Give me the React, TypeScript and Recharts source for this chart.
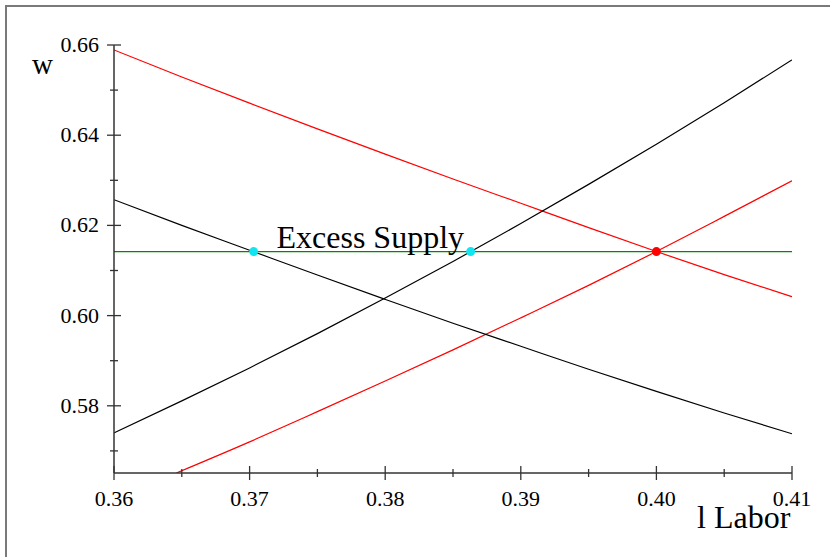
import React from "react";
import { ComposedChart, Line, XAxis, YAxis, ReferenceDot } from "recharts";

// supply / demand curves (l = labor, w = wage)
const supplyBlack = [
  { l: 0.36, w: 0.574 },
  { l: 0.365, w: 0.5811 },
  { l: 0.37, w: 0.5884 },
  { l: 0.375, w: 0.596 },
  { l: 0.38, w: 0.6039 },
  { l: 0.385, w: 0.612 },
  { l: 0.39, w: 0.6204 },
  { l: 0.395, w: 0.6291 },
  { l: 0.4, w: 0.638 },
  { l: 0.405, w: 0.6472 },
  { l: 0.41, w: 0.6567 },
];

const demandBlack = [
  { l: 0.36, w: 0.6257 },
  { l: 0.365, w: 0.62 },
  { l: 0.37, w: 0.6145 },
  { l: 0.375, w: 0.609 },
  { l: 0.38, w: 0.6036 },
  { l: 0.385, w: 0.5983 },
  { l: 0.39, w: 0.5932 },
  { l: 0.395, w: 0.5881 },
  { l: 0.4, w: 0.5832 },
  { l: 0.405, w: 0.5784 },
  { l: 0.41, w: 0.5738 },
];

const supplyRed = [
  { l: 0.3646, w: 0.5651 },
  { l: 0.37, w: 0.572 },
  { l: 0.375, w: 0.5787 },
  { l: 0.38, w: 0.5855 },
  { l: 0.385, w: 0.5924 },
  { l: 0.39, w: 0.5995 },
  { l: 0.395, w: 0.6067 },
  { l: 0.4, w: 0.6142 },
  { l: 0.405, w: 0.622 },
  { l: 0.41, w: 0.6299 },
];

const demandRed = [
  { l: 0.36, w: 0.6589 },
  { l: 0.365, w: 0.6529 },
  { l: 0.37, w: 0.6471 },
  { l: 0.375, w: 0.6414 },
  { l: 0.38, w: 0.6358 },
  { l: 0.385, w: 0.6303 },
  { l: 0.39, w: 0.6249 },
  { l: 0.395, w: 0.6195 },
  { l: 0.4, w: 0.6142 },
  { l: 0.405, w: 0.6091 },
  { l: 0.41, w: 0.6042 },
];

const wageLine = [
  { l: 0.36, w: 0.6142 },
  { l: 0.41, w: 0.6142 },
];

const excessPoints = [
  { l: 0.3703, w: 0.6142 },
  { l: 0.3863, w: 0.6142 },
];
const equilibrium = { l: 0.4, w: 0.6142 };
const excessLabel = { l: 0.3789, w: 0.6142, text: "Excess Supply" };

const xTicks = [0.36, 0.365, 0.37, 0.375, 0.38, 0.385, 0.39, 0.395, 0.4, 0.405, 0.41];
const yTicks = [0.57, 0.58, 0.59, 0.6, 0.61, 0.62, 0.63, 0.64, 0.65, 0.66];

const serif = "'Liberation Serif', 'Times New Roman', serif";
const axisColor = "#333";

const isMajor = (v: number, step: number) =>
  Math.abs(v / step - Math.round(v / step)) < 1e-6;

function XTick({ x, y, payload }: any) {
  const major = isMajor(payload.value, 0.01);
  const len = major ? 7 : 4;
  return (
    <g>
      <line x1={x} x2={x} y1={y - len} y2={y + len} stroke={axisColor} strokeWidth={1.3} />
      {major && (
        <text x={x} y={y + 33} textAnchor="middle" fontSize={22} fontFamily={serif} fill="#000">
          {payload.value.toFixed(2)}
        </text>
      )}
    </g>
  );
}

function YTick({ x, y, payload }: any) {
  const major = isMajor(payload.value, 0.02);
  const len = major ? 7 : 4;
  return (
    <g>
      <line x1={x - len} x2={x + len} y1={y} y2={y} stroke={axisColor} strokeWidth={1.3} />
      {major && (
        <text x={x - 15} y={y + 7} textAnchor="end" fontSize={22} fontFamily={serif} fill="#000">
          {payload.value.toFixed(2)}
        </text>
      )}
    </g>
  );
}

export default function App() {
  return (
    <div style={{ position: "absolute", left: 0, top: 0, width: 830, height: 557, background: "#fff" }}>
      <div
        style={{
          position: "absolute",
          left: 5,
          top: 5,
          width: 840,
          height: 600,
          borderLeft: "2px solid #7a7a7a",
          borderTop: "2px solid #7a7a7a",
        }}
      />
      <div style={{ position: "absolute", left: 0, top: 0, overflow: "hidden", width: 830, height: 557 }}>
        <ComposedChart width={830} height={557} margin={{ top: 45, right: 38, bottom: 83, left: 113 }}>
          <XAxis
            dataKey="l"
            type="number"
            domain={[0.36, 0.41]}
            ticks={xTicks}
            allowDataOverflow
            height={1}
            tickSize={0}
            tickMargin={0}
            tickLine={false}
            tick={<XTick />}
            axisLine={{ stroke: axisColor, strokeWidth: 1.5 }}
            interval={0}
          />
          <YAxis
            dataKey="w"
            type="number"
            domain={[0.5651, 0.66]}
            ticks={yTicks}
            allowDataOverflow
            width={1}
            tickSize={0}
            tickMargin={0}
            tickLine={false}
            tick={<YTick />}
            axisLine={{ stroke: axisColor, strokeWidth: 1.5 }}
            interval={0}
          />
          <Line data={wageLine} dataKey="w" type="linear" stroke="#008a00" strokeWidth={1.3} dot={false} isAnimationActive={false} />
          <Line data={demandRed} dataKey="w" type="monotone" stroke="#ff0000" strokeWidth={1.2} dot={false} isAnimationActive={false} />
          <Line data={supplyRed} dataKey="w" type="monotone" stroke="#ff0000" strokeWidth={1.2} dot={false} isAnimationActive={false} />
          <Line data={supplyBlack} dataKey="w" type="monotone" stroke="#000" strokeWidth={1.2} dot={false} isAnimationActive={false} />
          <Line data={demandBlack} dataKey="w" type="monotone" stroke="#000" strokeWidth={1.2} dot={false} isAnimationActive={false} />
          {excessPoints.map((p, i) => (
            <ReferenceDot key={i} x={p.l} y={p.w} r={4.5} fill="#10e6f2" stroke="none" />
          ))}
          <ReferenceDot x={equilibrium.l} y={equilibrium.w} r={4.5} fill="#ff0000" stroke="none" />
          <ReferenceDot
            x={excessLabel.l}
            y={excessLabel.w}
            r={0}
            fill="none"
            stroke="none"
            label={(props: any) => {
              const vb = props.viewBox || {};
              const cx = (vb.x ?? 0) + (vb.width ?? 0) / 2;
              const cy = vb.y ?? 0;
              return (
                <text x={cx} y={cy - 4} textAnchor="middle" fontSize={32} fontFamily={serif} fill="#000">
                  {excessLabel.text}
                </text>
              );
            }}
          />
        </ComposedChart>
        <svg width={830} height={557} style={{ position: "absolute", left: 0, top: 0, pointerEvents: "none" }}>
          <text x={32} y={74} fontSize={29} fontFamily={serif} fill="#000">
            w
          </text>
          <text x={697} y={528} fontSize={32} fontFamily={serif} fill="#000">
            l Labor
          </text>
        </svg>
      </div>
    </div>
  );
}
